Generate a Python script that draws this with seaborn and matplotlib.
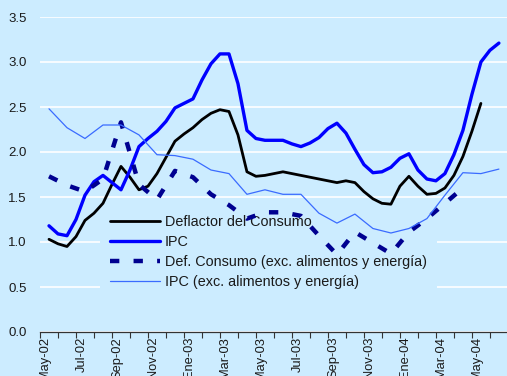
import numpy as np
import pandas as pd
import matplotlib
matplotlib.use("Agg")
import matplotlib.pyplot as plt
from matplotlib.ticker import FixedLocator
import seaborn as sns

# Meses del eje (mayo 2002 - junio 2004)
meses = ["May-02", "Jun-02", "Jul-02", "Ago-02", "Sep-02", "Oct-02", "Nov-02", "Dic-02",
         "Ene-03", "Feb-03", "Mar-03", "Abr-03", "May-03", "Jun-03", "Jul-03", "Ago-03",
         "Sep-03", "Oct-03", "Nov-03", "Dic-03", "Ene-04", "Feb-04", "Mar-04", "Abr-04",
         "May-04", "Jun-04"]

# Series quincenales (variación anual, %)
deflactor_consumo = [1.03, 0.98, 0.95, 1.06, 1.24, 1.32, 1.43, 1.64, 1.84, 1.72,
                     1.58, 1.62, 1.76, 1.94, 2.12, 2.20, 2.27, 2.36, 2.43, 2.47,
                     2.45, 2.19, 1.78, 1.73, 1.74, 1.76, 1.78, 1.76, 1.74, 1.72,
                     1.70, 1.68, 1.66, 1.68, 1.66, 1.56, 1.48, 1.43, 1.42, 1.62,
                     1.73, 1.62, 1.53, 1.54, 1.60, 1.74, 1.95, 2.23, 2.54]
ipc = [1.18, 1.09, 1.07, 1.25, 1.52, 1.67, 1.74, 1.66, 1.58, 1.80,
       2.06, 2.15, 2.23, 2.34, 2.49, 2.54, 2.59, 2.80, 2.98, 3.09,
       3.09, 2.76, 2.24, 2.15, 2.13, 2.13, 2.13, 2.09, 2.06, 2.10,
       2.16, 2.26, 2.32, 2.21, 2.03, 1.86, 1.77, 1.78, 1.83, 1.93,
       1.98, 1.80, 1.70, 1.68, 1.76, 1.97, 2.24, 2.64, 3.00, 3.13, 3.21]

# Series mensuales (excluyendo alimentos y energía)
def_consumo_sub = [1.73, 1.63, 1.56, 1.70, 2.33, 1.64, 1.47, 1.79, 1.72, 1.53,
                   1.41, 1.26, 1.33, 1.33, 1.29, 1.07, 0.86, 1.11, 0.99, 0.87,
                   1.11, 1.26, 1.43, 1.60]
ipc_sub = [2.48, 2.27, 2.15, 2.30, 2.30, 2.19, 1.97, 1.96, 1.92, 1.80,
           1.76, 1.53, 1.58, 1.53, 1.53, 1.32, 1.21, 1.31, 1.15, 1.10,
           1.15, 1.26, 1.52, 1.77, 1.76, 1.81]

etiquetas = ["Deflactor del Consumo", "IPC",
             "Def. Consumo (exc. alimentos y energía)",
             "IPC (exc. alimentos y energía)"]

fondo = "#CCECFF"
sns.set_theme(style="white")
plt.rcParams["font.family"] = ["Liberation Sans", "DejaVu Sans"]
plt.rcParams["text.color"] = "#1a1a1a"

fig = plt.figure(figsize=(5.07, 3.76), dpi=100, facecolor=fondo)
ax = fig.add_axes([40 / 507, 44 / 376, 467 / 507, 315 / 376])
ax.set_facecolor(fondo)

quincenal = lambda s: pd.DataFrame({"x": 0.5 + 0.5 * np.arange(len(s)), "y": s})
mensual = lambda s: pd.DataFrame({"x": 0.5 + np.arange(len(s)), "y": s})

sns.lineplot(data=quincenal(deflactor_consumo), x="x", y="y", ax=ax,
             color="black", linewidth=2.0, zorder=3)
sns.lineplot(data=quincenal(ipc), x="x", y="y", ax=ax,
             color="#0000FF", linewidth=2.4, zorder=3)
sns.lineplot(data=mensual(def_consumo_sub), x="x", y="y", ax=ax,
             color="#000090", linewidth=3.2, zorder=3)
sns.lineplot(data=mensual(ipc_sub), x="x", y="y", ax=ax,
             color="#3A6BFF", linewidth=0.9, zorder=3)

lineas = ax.get_lines()
lineas[2].set_dashes((2.1, 3.2))
lineas[2].set_dash_capstyle("butt")

ax.set_xlim(0, 25.95)
ax.set_ylim(0, 3.5)
ax.set_yticks(np.arange(0, 3.51, 0.5))
ax.set_yticklabels([f"{v:.1f}" for v in np.arange(0, 3.51, 0.5)])
ax.tick_params(axis="y", length=0, pad=9.5, labelsize=9.5, labelcolor="#1a1a1a")

# marcas mensuales y etiquetas cada dos meses
ax.xaxis.set_minor_locator(FixedLocator(np.arange(0, 27)))
ax.xaxis.set_major_locator(FixedLocator(np.arange(0, 26, 2) + 0.3))
ax.set_xticklabels(meses[::2], rotation=90, va="top", ha="center")
ax.tick_params(axis="x", which="major", length=0, pad=3.5, labelsize=9.3,
               labelcolor="#1a1a1a")
ax.tick_params(axis="x", which="minor", length=4, width=0.8, color="#333333",
               direction="out", bottom=True)

ax.set_xlabel("")
ax.set_ylabel("")
ax.grid(axis="y", color="white", linewidth=1.2)
ax.grid(axis="x", visible=False)
ax.set_axisbelow(True)
for lado in ["top", "right", "left"]:
    ax.spines[lado].set_visible(False)
ax.spines["bottom"].set_color("#333333")
ax.spines["bottom"].set_linewidth(0.9)

leg = ax.legend(lineas, etiquetas, loc="upper left",
                bbox_to_anchor=(100 / 507, 1 - 205 / 376),
                bbox_transform=fig.transFigure, frameon=True, fontsize=10.4,
                handlelength=3.45, handletextpad=0.35, labelspacing=0.42,
                borderpad=0.7, borderaxespad=0, fancybox=False)
leg.get_frame().set_facecolor(fondo)
leg.get_frame().set_edgecolor("none")
leg.get_frame().set_alpha(1)
leg.set_zorder(1)

fig.savefig("out.png", dpi=100, facecolor=fondo)
